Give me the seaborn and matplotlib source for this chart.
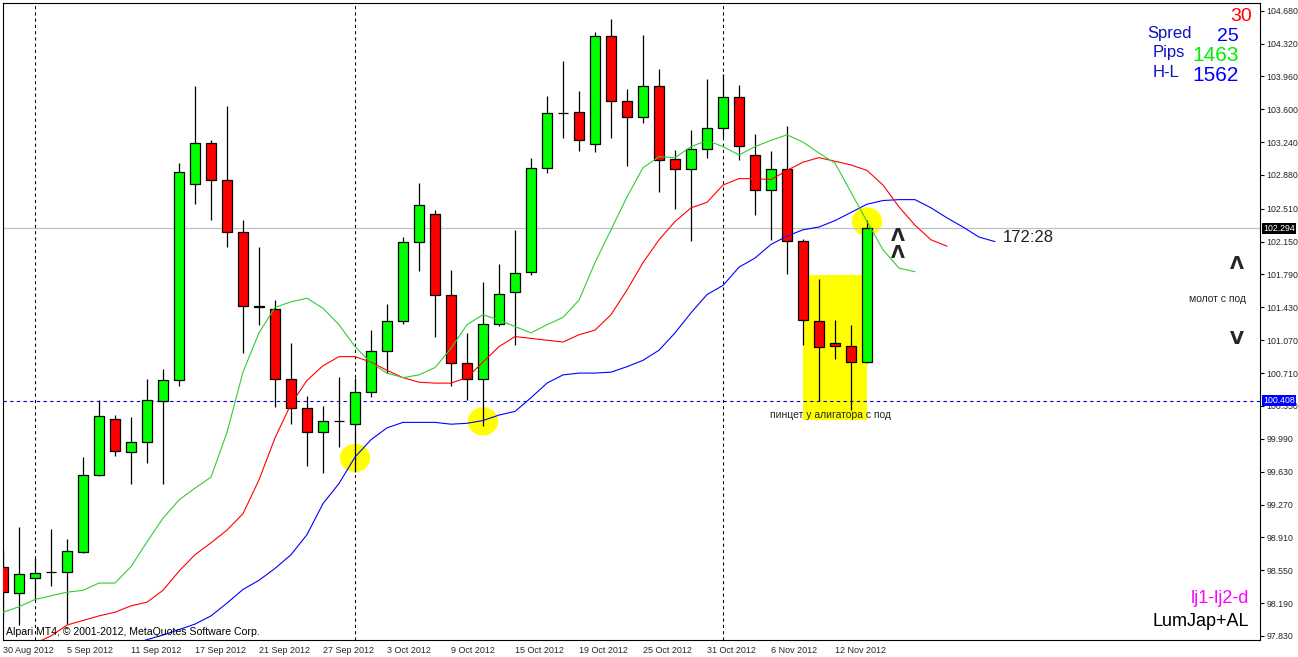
import numpy as np
import pandas as pd
import matplotlib
matplotlib.use("Agg")
import matplotlib.pyplot as plt
import matplotlib.transforms as mtransforms
from matplotlib.patches import Ellipse, Rectangle
import seaborn as sns

# --- daily candles (bar 0 = 30 Aug 2012) ---
opens = [98.59, 98.30, 98.47, 98.53, 98.53, 98.75, 99.59, 100.21, 99.85, 99.95,
         100.40, 100.63, 102.78, 103.23, 102.82, 102.26, 101.45, 101.41, 100.65, 100.33,
         100.06, 100.19, 100.15, 100.50, 100.95, 101.28, 102.15, 102.45, 101.57, 100.82,
         100.64, 101.25, 101.60, 101.82, 102.96, 103.56, 103.57, 103.22, 104.40, 103.69,
         103.52, 103.85, 103.06, 102.95, 103.17, 103.39, 103.73, 103.10, 102.72, 102.95,
         102.16, 101.28, 101.04, 101.01, 100.83]
highs = [98.77, 99.02, 98.68, 99.00, 98.89, 99.79, 100.42, 100.25, 100.23, 100.64,
         100.75, 103.01, 103.86, 103.26, 103.64, 102.39, 102.09, 101.51, 101.04, 100.46,
         100.35, 100.67, 100.66, 101.18, 101.47, 102.20, 102.79, 102.50, 101.84, 101.15,
         101.71, 101.90, 102.28, 103.07, 103.74, 104.13, 103.80, 104.45, 104.59, 103.82,
         104.41, 104.04, 103.15, 103.37, 103.93, 103.99, 103.87, 103.33, 103.14, 103.42,
         102.18, 101.74, 101.29, 101.24, 102.39]
lows = [98.03, 97.95, 98.22, 98.38, 97.96, 98.74, 99.58, 99.80, 99.50, 99.73,
        99.50, 100.57, 102.56, 102.39, 102.09, 100.93, 101.24, 100.34, 100.15, 99.69,
        99.62, 99.90, 99.63, 100.45, 100.71, 101.25, 101.83, 101.11, 100.57, 100.42,
        100.13, 101.23, 101.02, 101.78, 102.90, 103.29, 103.14, 103.13, 103.28, 102.98,
        103.45, 102.69, 102.51, 102.16, 103.07, 103.30, 103.04, 102.44, 102.17, 101.79,
        101.02, 100.40, 100.86, 100.31, 100.82]
closes = [98.31, 98.51, 98.52, 98.53, 98.76, 99.59, 100.24, 99.86, 99.95, 100.41,
          100.63, 102.91, 103.23, 102.82, 102.26, 101.45, 101.43, 100.65, 100.33, 100.06,
          100.19, 100.19, 100.50, 100.95, 101.28, 102.15, 102.55, 101.56, 100.82, 100.65,
          101.25, 101.58, 101.81, 102.96, 103.56, 103.56, 103.26, 104.40, 103.69, 103.52,
          103.85, 103.04, 102.95, 103.17, 103.39, 103.73, 103.20, 102.72, 102.95, 102.16,
          101.29, 101.00, 101.01, 100.83, 102.294]

# alligator lines (already shifted forward), lips + teeth start at bar 0, jaw at bar 8
lips = [98.09, 98.15, 98.23, 98.27, 98.31, 98.33, 98.41, 98.41, 98.59, 98.86,
        99.12, 99.32, 99.45, 99.57, 100.06, 100.72, 101.15, 101.43, 101.49, 101.53,
        101.42, 101.24, 101.00, 100.82, 100.71, 100.66, 100.69, 100.77, 100.98, 101.24,
        101.35, 101.29, 101.22, 101.15, 101.24, 101.32, 101.51, 101.92, 102.28, 102.64,
        102.96, 103.08, 103.07, 103.19, 103.26, 103.19, 103.10, 103.19, 103.26, 103.32,
        103.24, 103.12, 103.01, 102.69, 102.37, 102.06, 101.86, 101.82]
teeth = [97.65, 97.70, 97.75, 97.83, 97.95, 98.00, 98.05, 98.09, 98.16, 98.20,
         98.33, 98.54, 98.72, 98.85, 98.99, 99.17, 99.54, 100.00, 100.37, 100.63,
         100.79, 100.89, 100.89, 100.83, 100.74, 100.66, 100.61, 100.60, 100.60, 100.66,
         100.83, 101.00, 101.11, 101.09, 101.07, 101.05, 101.13, 101.18, 101.35, 101.62,
         101.92, 102.17, 102.37, 102.52, 102.58, 102.77, 102.84, 102.84, 102.83, 102.93,
         103.02, 103.07, 103.03, 102.99, 102.93, 102.77, 102.53, 102.33, 102.17, 102.10]
jaw_start = 8
jaw = [97.73, 97.79, 97.84, 97.90, 97.96, 98.05, 98.19, 98.34, 98.44, 98.57,
       98.72, 98.94, 99.28, 99.50, 99.79, 99.98, 100.11, 100.17, 100.17, 100.17,
       100.15, 100.16, 100.19, 100.25, 100.29, 100.44, 100.60, 100.69, 100.71, 100.71,
       100.72, 100.78, 100.85, 100.96, 101.15, 101.37, 101.57, 101.67, 101.87, 101.97,
       102.12, 102.21, 102.28, 102.31, 102.38, 102.47, 102.56, 102.60, 102.61, 102.61,
       102.52, 102.41, 102.31, 102.20, 102.15]

date_labels = ["30 Aug 2012", "5 Sep 2012", "11 Sep 2012", "17 Sep 2012", "21 Sep 2012",
               "27 Sep 2012", "3 Oct 2012", "9 Oct 2012", "15 Oct 2012", "19 Oct 2012",
               "25 Oct 2012", "31 Oct 2012", "6 Nov 2012", "12 Nov 2012"]
date_step = 4
month_starts = [2, 22, 45]

price_ticks = [104.68, 104.32, 103.96, 103.60, 103.24, 102.88, 102.51, 102.15, 101.79, 101.43,
               101.07, 100.71, 100.35, 99.99, 99.63, 99.27, 98.91, 98.55, 98.19, 97.83]
price_labels = ["104.680", "104.320", "103.960", "103.600", "103.240", "102.880", "102.510",
                "102.150", "101.790", "101.430", "101.070", "100.710", "100.350", "99.990",
                "99.630", "99.270", "98.910", "98.550", "98.190", "97.830"]

bid = 102.294
level = 100.408

# hand-drawn marks on the chart
circles = [(22, 99.78), (30, 100.18), (54, 102.37)]
box_bars = (50, 54)
box_prices = (100.20, 101.78)

sns.set_style("white")
plt.rcParams['font.family'] = ['Liberation Sans', 'DejaVu Sans']

W, H = 1298, 657
fig = plt.figure(figsize=(W / 100, H / 100), dpi=100)
ax = fig.add_axes([2.5 / W, 17 / H, 1257 / W, 637 / H])

df = pd.DataFrame({"open": opens, "high": highs, "low": lows, "close": closes})
df["bar"] = np.arange(len(df))
up = df["close"] >= df["open"]

# yellow highlights
ax.add_patch(Rectangle((box_bars[0], box_prices[0]), box_bars[1] - box_bars[0],
                       box_prices[1] - box_prices[0], color="#ffff00", lw=0, zorder=1))
for cx, cy in circles:
    ax.add_patch(Ellipse((cx, cy), 1.9, 0.31, color="#ffff00", lw=0, zorder=1))

# grid / price lines
for m in month_starts:
    ax.axvline(m, color="black", lw=0.75, ls=(0, (3, 3)), zorder=1.5)
ax.axhline(bid, color="#c0c0c0", lw=0.9, zorder=1.5)
ax.axhline(level, color="#0000cc", lw=0.8, ls=(0, (3, 3)), zorder=1.5)

# candles
ax.vlines(df["bar"], df["low"], df["high"], color="black", lw=0.9, zorder=3)
bottoms = np.minimum(df["open"], df["close"])
heights = (df["close"] - df["open"]).abs()
ax.bar(df["bar"], heights, bottom=bottoms, width=0.62,
       color=np.where(up, "#00ff00", "#ff0000"), edgecolor="black", linewidth=0.9, zorder=4)

# alligator
lines = [
    (pd.DataFrame({"bar": np.arange(len(jaw)) + jaw_start, "price": jaw}), "#0000ff"),
    (pd.DataFrame({"bar": np.arange(len(teeth)), "price": teeth}), "#ff0000"),
    (pd.DataFrame({"bar": np.arange(len(lips)), "price": lips}), "#33cc33"),
]
for d, c in lines:
    sns.lineplot(data=d, x="bar", y="price", color=c, lw=0.8, ax=ax, zorder=5)

ax.set_xlim(-0.03, 78.53)
ax.set_ylim(97.786, 104.764)
ax.set_xlabel("")
ax.set_ylabel("")

# axes
for s in ax.spines.values():
    s.set_color("black")
    s.set_linewidth(0.8)
ax.yaxis.tick_right()
ax.set_yticks(price_ticks)
ax.set_yticklabels(price_labels, fontsize=6.3)
ax.set_xticks(np.arange(len(date_labels)) * date_step)
ax.set_xticklabels(date_labels, fontsize=6.5, ha="left")
ax.tick_params(axis="both", direction="out", length=3, width=0.8, color="black", pad=1.5)
ax.tick_params(axis="y", pad=2)

# price tags on the right
tr = mtransforms.blended_transform_factory(ax.transAxes, ax.transData)
ax.text(1.0 + 4 / 1257, bid, "102.294", transform=tr, va="center", ha="left", color="white",
        fontsize=6.3, zorder=10, clip_on=False,
        bbox=dict(boxstyle="square,pad=0.12", fc="black", ec="none"))
ax.text(1.0 + 4 / 1257, level, "100.408", transform=tr, va="center", ha="left", color="white",
        fontsize=6.3, zorder=10, clip_on=False,
        bbox=dict(boxstyle="square,pad=0.12", fc="#0000ff", ec="none"))

# chart annotations
arrow_kw = dict(fontsize=13, fontweight="bold", family="DejaVu Sans", ha="center",
                va="center", zorder=6)
ax.text(55.94, 102.21, "Λ", **arrow_kw)
ax.text(55.94, 102.03, "Λ", **arrow_kw)
ax.text(62.5, 102.195, "172:28", fontsize=12, color="#202020", ha="left", va="center", zorder=6)
ax.text(47.94, 100.25, "пинцет у алигатора с под", fontsize=7.5, ha="left", va="center", zorder=6)
ax.text(77.1, 101.91, "Λ", **arrow_kw)
ax.text(75.9, 101.52, "молот с под", fontsize=7.5, ha="center", va="center", zorder=6)
ax.text(77.1, 101.08, "V", **arrow_kw)

# indicator labels, top right
def ftext(x, y, s, **kw):
    fig.text(x / W, 1 - y / H, s, va="baseline", **kw)

ftext(1252, 20.7, "30", color="#ff0000", fontsize=14, ha="right")
ftext(1147, 38.3, "Spred", color="#1010c0", fontsize=12, ha="left")
ftext(1239, 40.7, "25", color="#0000ff", fontsize=14, ha="right")
ftext(1153, 56.7, "Pips", color="#1010c0", fontsize=12, ha="left")
ftext(1239, 61, "1463", color="#00ee00", fontsize=15, ha="right")
ftext(1153, 77.3, "H-L", color="#1010c0", fontsize=12, ha="left")
ftext(1239, 81, "1562", color="#0000ff", fontsize=15, ha="right")
ftext(1249, 603.3, "lj1-lj2-d", color="#ff00ff", fontsize=13, ha="right")
ftext(1249, 626, "LumJap+AL", color="black", fontsize=13, ha="right")
ftext(6, 635, "Alpari MT4, © 2001-2012, MetaQuotes Software Corp.", color="black",
      fontsize=7.6, ha="left")

fig.savefig("out.png", dpi=100, facecolor="white")
